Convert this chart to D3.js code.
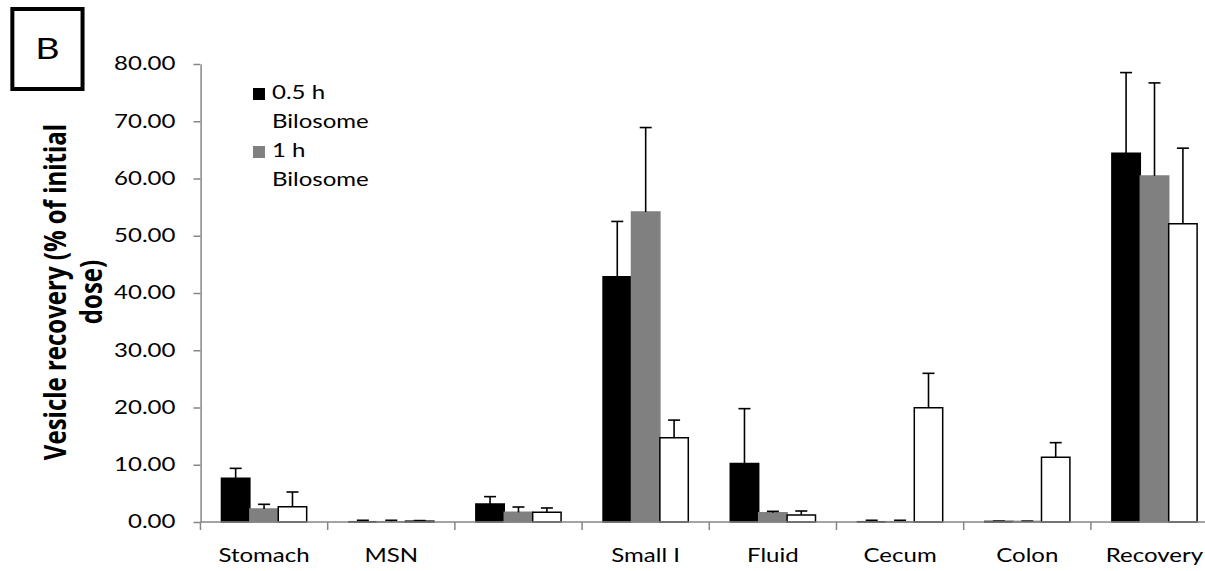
<!DOCTYPE html>
<html>
<head>
<meta charset="utf-8">
<script src="https://cdn.jsdelivr.net/npm/d3@7"></script>
<style>
  html, body { margin: 0; padding: 0; background: #fff; overflow: hidden; }
  text { font-family: Lato, "Open Sans", sans-serif; fill: #000; }
  text.title { font-family: "Open Sans", Lato, sans-serif; }
  .ns { vector-effect: non-scaling-stroke; }
</style>
</head>
<body>
<div id="chart"></div>
<script>
// Vesicle recovery per GI segment, three time points
var categories = ['Stomach', 'MSN', '', 'Small I', 'Fluid', 'Cecum', 'Colon', 'Recovery']
var seriesKeys = ['h05', 'h1', 'h3']
var legendLines = [['0.5 h', 'Bilosome'], ['1 h', 'Bilosome']]
var values05 = [7.63, 0.05, 3.14, 42.85, 10.24, 0.05, 0.1, 64.4]
var errors05 = [1.74, 0.25, 1.29, 9.65, 9.56, 0.25, 0.05, 14.1]
var values1 = [2.27, 0.05, 1.69, 54.15, 1.63, 0.05, 0.1, 60.44]
var errors1 = [0.82, 0.25, 0.93, 14.75, 0.23, 0.25, 0.05, 16.26]
var values3 = [2.67, 0.15, 1.69, 14.73, 1.22, 19.97, 11.3, 52.1]
var errors3 = [2.57, 0.1, 0.76, 3.07, 0.7, 6.0, 2.56, 13.2]
var yTicks = [0, 10, 20, 30, 40, 50, 60, 70, 80]

var seriesValues = [values05, values1, values3]
var seriesErrors = [errors05, errors1, errors3]
var fills = ['#000000', '#808080', '#ffffff']
var strokes = ['#000000', '#808080', '#000000']

// the original figure is horizontally stretched, so draw in narrow units and stretch the svg
var SX = 1.3
var width = 1205
var height = 571
var W = width / SX

var plot = { left: 154.2, right: 937, top: 64, bottom: 522 }

var svg = d3.select('#chart').append('svg')
  .attr('width', width)
  .attr('height', height)
  .attr('viewBox', '0 0 ' + W + ' ' + height)
  .attr('preserveAspectRatio', 'none')

var x0 = d3.scaleBand()
  .domain(d3.range(categories.length))
  .range([plot.left, plot.right])
  .paddingInner(0.33)
  .paddingOuter(0.165)

var x1 = d3.scaleBand()
  .domain(seriesKeys)
  .range([0, x0.bandwidth()])

var y = d3.scaleLinear()
  .domain([0, 80])
  .range([plot.bottom, plot.top])

// panel letter
svg.append('rect')
  .attr('class', 'ns')
  .attr('x', 9.5).attr('y', 9)
  .attr('width', 54).attr('height', 80)
  .attr('fill', 'none').attr('stroke', '#000').attr('stroke-width', 4)
svg.append('text')
  .attr('x', 36.5).attr('y', 59)
  .attr('text-anchor', 'middle')
  .attr('font-size', 29)
  .text('B')

// bars
var groups = svg.append('g').selectAll('g')
  .data(seriesKeys)
  .join('g')

groups.selectAll('rect')
  .data(function (k, j) { return categories.map(function (c, i) { return { i: i, j: j, v: seriesValues[j][i], e: seriesErrors[j][i] } }) })
  .join('rect')
  .attr('class', 'ns')
  .attr('x', function (d) { return x0(d.i) + x1(seriesKeys[d.j]) })
  .attr('y', function (d) { return y(d.v) })
  .attr('width', x1.bandwidth())
  .attr('height', function (d) { return y(0) - y(d.v) })
  .attr('fill', function (d) { return fills[d.j] })
  .attr('stroke', function (d) { return strokes[d.j] })
  .attr('stroke-width', 1.5)

// error bars (upper only)
var capW = 12 / SX
var errs = svg.append('g').attr('stroke', '#000').attr('stroke-width', 1.6)
seriesKeys.forEach(function (k, j) {
  categories.forEach(function (c, i) {
    var cx = x0(i) + x1(k) + x1.bandwidth() / 2
    var top = y(seriesValues[j][i] + seriesErrors[j][i])
    errs.append('line').attr('class', 'ns')
      .attr('x1', cx).attr('x2', cx)
      .attr('y1', y(seriesValues[j][i])).attr('y2', top)
    errs.append('line').attr('class', 'ns')
      .attr('x1', cx - capW / 2).attr('x2', cx + capW / 2)
      .attr('y1', top).attr('y2', top)
  })
})

// y axis
var yAxis = svg.append('g')
  .attr('transform', 'translate(' + plot.left + ',0)')
  .call(d3.axisLeft(y).tickValues(yTicks).tickFormat(d3.format('.2f'))
    .tickSize(7 / SX).tickSizeOuter(0).tickPadding(18 / SX))
yAxis.attr('font-size', 18.5).attr('font-family', null)
yAxis.selectAll('path, line').attr('class', 'ns').attr('stroke', '#868686').attr('stroke-width', 1.5)

// x axis: line, boundary ticks, centred labels
var xAxis = svg.append('g')
xAxis.append('line').attr('class', 'ns')
  .attr('x1', plot.left).attr('x2', W)
  .attr('y1', y(0)).attr('y2', y(0))
  .attr('stroke', '#868686').attr('stroke-width', 1.5)
xAxis.selectAll('line.tick')
  .data(d3.range(categories.length + 1))
  .join('line')
  .attr('class', 'tick ns')
  .attr('x1', function (i) { return plot.left + i * x0.step() })
  .attr('x2', function (i) { return plot.left + i * x0.step() })
  .attr('y1', y(0)).attr('y2', y(0) + 8)
  .attr('stroke', '#868686').attr('stroke-width', 1.5)
xAxis.selectAll('text')
  .data(categories)
  .join('text')
  .attr('x', function (c, i) { return x0(i) + x0.bandwidth() / 2 })
  .attr('y', 562)
  .attr('text-anchor', 'middle')
  .attr('font-size', 18.5)
  .text(function (c) { return c })

// y title, two lines
var yTitle = svg.append('text')
  .attr('class', 'title')
  .attr('transform', 'translate(0,292) rotate(-90)')
  .attr('text-anchor', 'middle')
  .attr('font-size', 24)
  .attr('font-weight', 'bold')
yTitle.append('tspan').attr('x', 0).attr('y', 51).text('Vesicle recovery (% of initial')
yTitle.append('tspan').attr('x', 0).attr('y', 78.5).text('dose)')

// legend
var legend = svg.append('g')
legendLines.forEach(function (lines, j) {
  var base = 99 + j * 58
  legend.append('rect')
    .attr('x', 194.6).attr('y', base - 11)
    .attr('width', 12 / SX).attr('height', 12)
    .attr('fill', fills[j])
  lines.forEach(function (t, k) {
    legend.append('text')
      .attr('x', 209.2).attr('y', base + k * 29)
      .attr('font-size', 18.5)
      .text(t)
  })
})
</script>
</body>
</html>
